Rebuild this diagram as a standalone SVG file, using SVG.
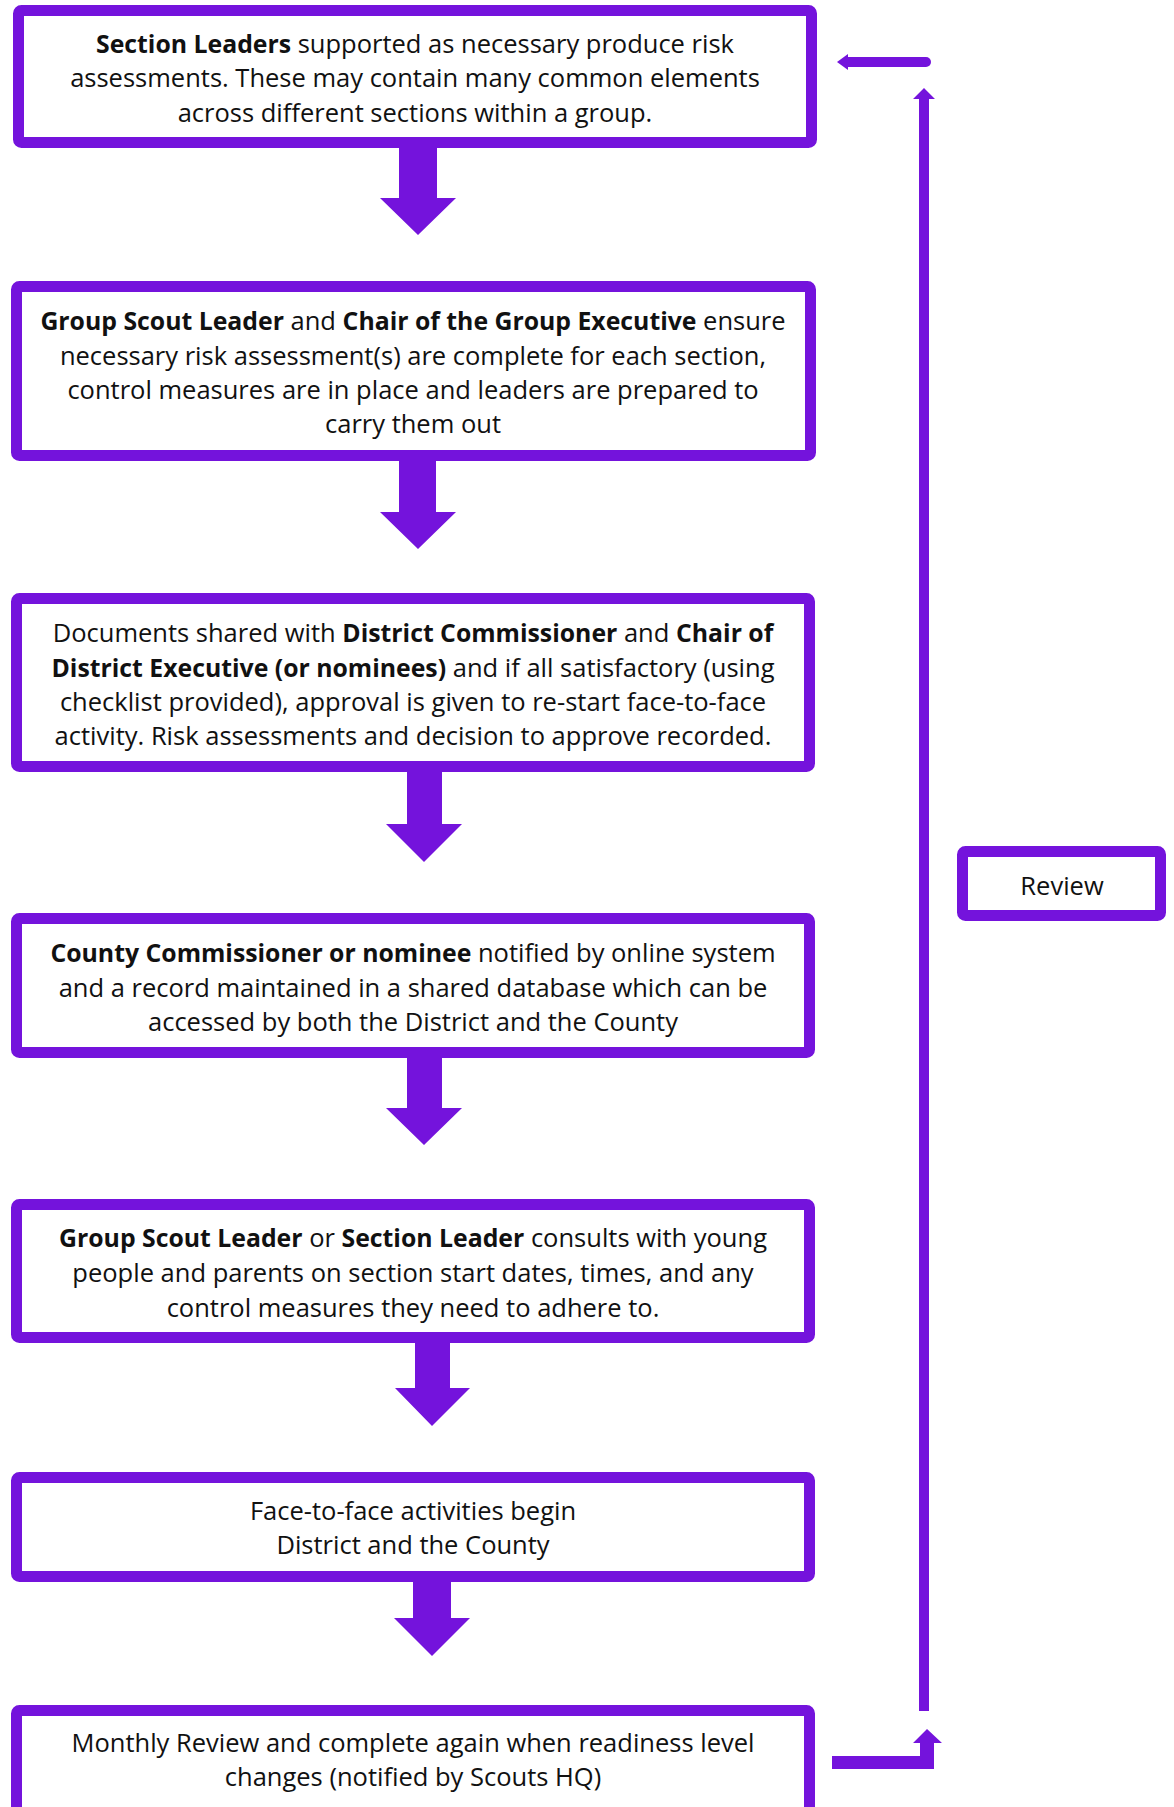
<svg xmlns="http://www.w3.org/2000/svg" width="1174" height="1807" viewBox="0 0 1174 1807">
<style>
.box{fill:#fff;stroke:#7413DC;stroke-width:11;}
.arr{fill:#7413DC;stroke:none;}
text{font-family:"Open Sans","Noto Sans",sans-serif;font-size:25.5px;fill:#111;text-anchor:middle;}
.b{font-weight:700;font-size:24.8px;}
</style>
<rect width="1174" height="1807" fill="#fff"/>
<g id="connectors">
<polygon class="arr" points="399,146 437,146 437,198 456,198 418,235 380,198 399,198"/>
<polygon class="arr" points="399,459 436,459 436,512 456,512 418,549 380,512 399,512"/>
<polygon class="arr" points="407,770 442,770 442,824 462,824 424,862 386,824 407,824"/>
<polygon class="arr" points="407,1056 442,1056 442,1108 462,1108 424,1145 386,1108 407,1108"/>
<polygon class="arr" points="415,1341 450,1341 450,1388 470,1388 432,1426 395,1388 415,1388"/>
<polygon class="arr" points="413,1580 451,1580 451,1618 470,1618 432,1656 394,1618 413,1618"/>
<polygon class="arr" points="832,1756 920,1756 920,1743 913,1743 927,1729 942,1743 934,1743 934,1769 832,1769"/>
<polygon class="arr" points="924,88 935,99 929,99 929,1711 919,1711 919,99 913,99"/>
<line x1="848" y1="62" x2="926" y2="62" stroke="#7413DC" stroke-width="10" stroke-linecap="round"/>
<polygon class="arr" points="837,62 848,54 848,70"/>
</g>
<g id="node1">
<rect class="box" x="18.5" y="10.5" width="793" height="132" rx="3"/>
<text x="415" y="53"><tspan class="b">Section Leaders</tspan> supported as necessary produce risk</text>
<text x="415" y="87">assessments. These may contain many common elements</text>
<text x="415" y="122">across different sections within a group.</text>
</g>
<g id="node2">
<rect class="box" x="16.5" y="286.5" width="794" height="169" rx="3"/>
<text x="413" y="330"><tspan class="b">Group Scout Leader</tspan> and <tspan class="b">Chair of the Group Executive</tspan> ensure</text>
<text x="413" y="365">necessary risk assessment(s) are complete for each section,</text>
<text x="413" y="399">control measures are in place and leaders are prepared to</text>
<text x="413" y="433">carry them out</text>
</g>
<g id="node3">
<rect class="box" x="16.5" y="598.5" width="793" height="168" rx="3"/>
<text x="413" y="642">Documents shared with <tspan class="b">District Commissioner</tspan> and <tspan class="b">Chair of</tspan></text>
<text x="413" y="677"><tspan class="b">District Executive (or nominees)</tspan> and if all satisfactory (using</text>
<text x="413" y="711">checklist provided), approval is given to re-start face-to-face</text>
<text x="413" y="745">activity. Risk assessments and decision to approve recorded.</text>
</g>
<g id="node4">
<rect class="box" x="16.5" y="918.5" width="793" height="134" rx="3"/>
<text x="413" y="962"><tspan class="b">County Commissioner or nominee</tspan> notified by online system</text>
<text x="413" y="997">and a record maintained in a shared database which can be</text>
<text x="413" y="1031">accessed by both the District and the County</text>
</g>
<g id="node5">
<rect class="box" x="16.5" y="1204.5" width="793" height="133" rx="3"/>
<text x="413" y="1247"><tspan class="b">Group Scout Leader</tspan> or <tspan class="b">Section Leader</tspan> consults with young</text>
<text x="413" y="1282">people and parents on section start dates, times, and any</text>
<text x="413" y="1317">control measures they need to adhere to.</text>
</g>
<g id="node6">
<rect class="box" x="16.5" y="1477.5" width="793" height="99" rx="3"/>
<text x="413" y="1520">Face-to-face activities begin</text>
<text x="413" y="1554">District and the County</text>
</g>
<g id="node7">
<rect class="box" x="16.5" y="1710.5" width="793" height="110" rx="3"/>
<text x="413" y="1752">Monthly Review and complete again when readiness level</text>
<text x="413" y="1786">changes (notified by Scouts HQ)</text>
</g>
<g id="review">
<rect class="box" x="962.5" y="851.5" width="198" height="64" rx="3"/>
<text x="1062" y="895">Review</text>
</g>
</svg>
